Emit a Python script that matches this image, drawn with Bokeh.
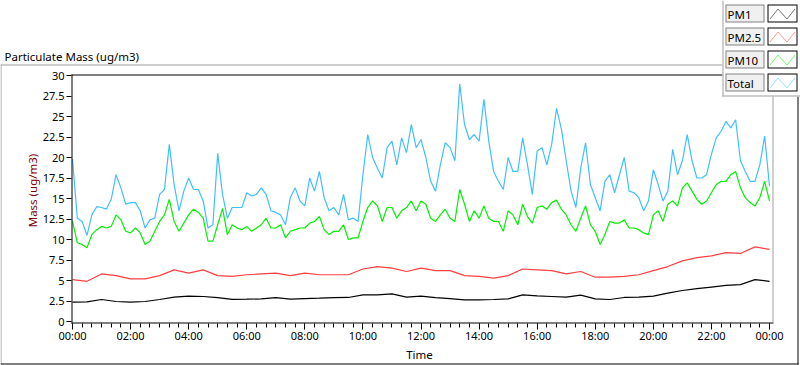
import math
from bokeh.plotting import figure
from bokeh.models import Range1d, FixedTicker, BoxAnnotation, PolyAnnotation, Label
from bokeh.embed import file_html
from bokeh.resources import INLINE

# ---------------- data ----------------
minutes_10 = list(range(0, 1441, 10))   # time of day in minutes, 10-min samples
total = [19.8, 12.6, 12.2, 10.5, 13.0, 14.0, 13.9, 13.7, 14.9, 17.9,
         16.3, 14.3, 14.5, 14.5, 13.5, 11.4, 12.4, 12.6, 15.5, 16.1,
         21.6, 16.7, 13.5, 15.9, 17.5, 16.1, 16.1, 14.7, 11.4, 11.8,
         20.5, 15.5, 12.6, 13.9, 13.9, 13.9, 15.7, 15.3, 15.5, 16.3,
         15.5, 13.5, 13.3, 13.0, 11.8, 15.1, 16.3, 14.7, 14.1, 17.5,
         15.9, 18.3, 15.1, 13.5, 13.9, 13.0, 15.5, 12.4, 12.6, 12.2,
         17.9, 22.8, 20.0, 18.7, 17.5, 21.2, 22.0, 19.1, 22.4, 20.6,
         24.0, 21.2, 22.2, 20.0, 17.1, 15.9, 19.1, 21.8, 21.2, 19.6,
         29.0, 24.0, 22.2, 22.8, 22.0, 27.1, 22.0, 18.3, 17.1, 16.1,
         20.0, 18.3, 18.3, 22.4, 19.1, 15.5, 20.8, 21.2, 19.1, 21.6,
         26.0, 23.5, 19.6, 15.9, 13.9, 18.7, 21.8, 16.7, 15.1, 13.5,
         17.1, 17.9, 15.7, 17.9, 20.0, 15.9, 15.7, 15.1, 13.5, 14.7,
         18.5, 16.7, 14.7, 15.9, 21.0, 17.9, 19.6, 22.8, 19.6, 17.5,
         17.5, 17.9, 20.4, 22.4, 23.2, 24.4, 23.6, 24.6, 19.6, 18.3,
         17.1, 17.1, 19.1, 22.6, 16.5]
pm10 = [12.2, 9.6, 9.4, 9.0, 10.6, 11.2, 11.6, 11.4, 11.6, 13.0,
        12.4, 11.0, 10.8, 11.4, 10.8, 9.4, 9.8, 11.0, 12.2, 13.0,
        14.9, 12.2, 11.0, 12.0, 13.0, 13.7, 13.3, 12.6, 9.8, 9.8,
        11.8, 13.8, 10.6, 11.8, 11.4, 11.2, 11.6, 11.0, 11.4, 11.8,
        12.6, 11.4, 11.4, 11.8, 10.2, 11.0, 11.2, 11.4, 11.4, 12.0,
        12.2, 12.8, 11.2, 10.6, 11.0, 11.0, 11.8, 10.0, 10.2, 10.2,
        12.2, 13.9, 14.7, 14.1, 12.2, 13.9, 13.9, 12.6, 13.5, 13.9,
        14.7, 13.5, 14.7, 14.3, 12.6, 12.2, 13.0, 13.7, 12.6, 12.2,
        16.1, 14.3, 12.2, 13.5, 12.6, 14.1, 12.6, 12.2, 12.2, 11.0,
        13.5, 13.0, 11.8, 14.3, 12.8, 12.0, 13.9, 14.1, 13.7, 14.5,
        14.8, 13.7, 13.0, 11.8, 11.0, 12.6, 14.1, 11.8, 11.0, 9.4,
        10.6, 12.2, 12.0, 12.0, 12.4, 11.4, 11.4, 11.2, 10.8, 10.6,
        13.0, 13.5, 12.2, 14.3, 14.7, 14.1, 16.3, 16.9, 15.9, 14.9,
        14.3, 14.7, 15.7, 16.7, 17.1, 17.1, 17.9, 18.3, 16.3, 15.1,
        14.5, 14.1, 15.1, 17.1, 14.7]
minutes_30 = list(range(0, 1441, 30))   # 30-min samples for the smooth series
pm25 = [5.1, 4.9, 5.8, 5.6, 5.2, 5.2, 5.6, 6.3, 5.9, 6.3,
        5.6, 5.5, 5.7, 5.8, 5.9, 5.6, 5.9, 5.7, 5.7, 5.7,
        6.4, 6.7, 6.5, 6.1, 6.5, 6.2, 6.2, 5.6, 5.5, 5.3,
        5.6, 6.4, 6.3, 6.2, 5.8, 6.1, 5.4, 5.4, 5.5, 5.7,
        6.2, 6.7, 7.4, 7.8, 8.0, 8.4, 8.3, 9.1, 8.8]
pm1 = [2.36, 2.40, 2.68, 2.44, 2.36, 2.44, 2.68, 2.97, 3.10, 3.05,
       2.90, 2.70, 2.72, 2.76, 2.90, 2.72, 2.80, 2.84, 2.90, 2.93,
       3.25, 3.25, 3.37, 2.97, 3.10, 2.90, 2.80, 2.64, 2.64, 2.68,
       2.76, 3.25, 3.13, 3.05, 2.97, 3.21, 2.76, 2.68, 2.93, 2.97,
       3.10, 3.45, 3.78, 4.00, 4.20, 4.40, 4.50, 5.10, 4.90]

series_names = ["PM1", "PM2.5", "PM10", "Total"]
series_colors = ["#000000", "#ff4040", "#00f000", "#40bfff"]

x_major = [0, 120, 240, 360, 480, 600, 720, 840, 960, 1080, 1200, 1320, 1440]
x_tick_labels = ["00:00", "02:00", "04:00", "06:00", "08:00", "10:00", "12:00",
                 "14:00", "16:00", "18:00", "20:00", "22:00", "00:00"]
x_minor = list(range(0, 1441, 20))
y_major = [0, 2.5, 5, 7.5, 10, 12.5, 15, 17.5, 20, 22.5, 25, 27.5, 30]
y_tick_labels = ["0", "2.5", "5", "7.5", "10", "12.5", "15", "17.5", "20",
                 "22.5", "25", "27.5", "30"]

title_text = "Particulate Mass (ug/m3)"
y_label = "Mass (ug/m3)"
x_label = "Time"

FONT = "Noto Sans"

# ---------------- geometry ----------------
W, H = 800, 365
X0_PX, PX_PER_MIN = 72, 697 / 1440      # pixel of 00:00, pixels per minute
Y0_PX, PX_PER_UNIT = 321, 8.2           # pixel of 0 ug/m3, pixels per unit
BASELINE_FIX = 4                        # label baseline correction (px)

# the frame covers the whole canvas; axes sit at fixed locations inside it
p = figure(width=W, height=H, title=None,
           x_range=Range1d(-X0_PX / PX_PER_MIN, (W - X0_PX) / PX_PER_MIN),
           y_range=Range1d(-(H - Y0_PX) / PX_PER_UNIT, Y0_PX / PX_PER_UNIT),
           output_backend="svg", toolbar_location=None,
           min_border=0, min_border_left=0, min_border_right=0,
           min_border_top=0, min_border_bottom=0,
           background_fill_color="white", border_fill_color="white",
           outline_line_color=None)
p.grid.visible = False

p.xaxis.ticker = FixedTicker(ticks=x_major, minor_ticks=x_minor)
p.xaxis.major_label_overrides = dict(zip(x_major, x_tick_labels))
p.yaxis.ticker = FixedTicker(ticks=y_major)
p.yaxis.major_label_overrides = dict(zip(y_major, y_tick_labels))
for ax in (p.xaxis[0], p.yaxis[0]):
    ax.axis_line_color = None
    ax.major_tick_line_color = "black"
    ax.major_tick_in = 0
    ax.minor_tick_in = 0
    ax.major_label_text_font = FONT
    ax.major_label_text_font_size = "11px"
    ax.major_label_text_color = "black"
p.xaxis.fixed_location = (Y0_PX - 323) / PX_PER_UNIT
p.yaxis.fixed_location = (71 - X0_PX) / PX_PER_MIN
p.xaxis.major_tick_out = 6
p.xaxis.minor_tick_out = 4
p.xaxis.minor_tick_line_color = "black"
p.xaxis.major_label_standoff = -2
p.yaxis.major_tick_out = 5
p.yaxis.minor_tick_line_color = None
p.yaxis.major_label_standoff = 2

# data lines
p.line(minutes_30, pm1, line_color=series_colors[0], line_width=1.2)
p.line(minutes_30, pm25, line_color=series_colors[1], line_width=1.2)
p.line(minutes_10, pm10, line_color=series_colors[2], line_width=1.2)
p.line(minutes_10, total, line_color=series_colors[3], line_width=1.2)

# ---------------- decorations (reference pixel positions) ----------------
def sx(X):
    return X
def sy(Y):
    return H - Y

def rect(x0, y0, x1, y1, color):
    p.add_layout(BoxAnnotation(left=sx(x0), right=sx(x1), top=sy(y0), bottom=sy(y1),
                               left_units="screen", right_units="screen",
                               top_units="screen", bottom_units="screen",
                               fill_color=color, fill_alpha=1, line_color=None,
                               level="annotation"))

def label(X, Y, text, size="11.5px", color="black", align="left", baseline="alphabetic", angle=0):
    if baseline == "alphabetic":
        Y = Y - BASELINE_FIX
    p.add_layout(Label(x=sx(X), y=sy(Y), x_units="screen", y_units="screen", text=text,
                       text_font=FONT, text_font_size=size, text_color=color,
                       text_align=align, text_baseline=baseline, angle=angle,
                       level="overlay"))

# outer panel borders
rect(0, 64, 722, 65, "#a0a0a0")
rect(0, 64, 1, 364, "#a0a0a0")
rect(0, 363, 798, 364, "black")
rect(797, 96, 798, 364, "black")
# plot area borders
rect(71, 74, 772, 75, "black")
rect(71, 74, 72, 323, "black")
rect(71, 322, 773, 323, "black")
rect(772, 74, 773, 322, "#a0a0a0")

label(4, 60, title_text)
label(32, 190, y_label, color="#7a0000", align="center", baseline="middle", angle=math.pi / 2)
label(419, 358, x_label, align="center")

# legend
rect(722, 0, 800, 96, "white")
rect(722, 0, 723, 96, "#a0a0a0")
rect(722, 95, 800, 96, "#a0a0a0")
for i, (name, col) in enumerate(zip(series_names, series_colors)):
    top = 4 + 23 * i
    rect(725, top, 764, top + 18, "#828282")
    rect(726, top + 1, 763, top + 17, "#f0f0f0")
    rect(767, top, 797, top + 18, "#000000")
    rect(768, top + 1, 796, top + 17, "white")
    xs = [769.5, 777.5, 786.5, 794.5, 786.5, 777.5]
    ys = [top + 14.5, top + 4.5, top + 14.5, top + 4.5, top + 14.5, top + 4.5]
    p.add_layout(PolyAnnotation(xs=[sx(v) for v in xs], ys=[sy(v) for v in ys],
                                xs_units="screen", ys_units="screen",
                                fill_alpha=0, line_color=col, line_width=1,
                                level="overlay"))
    label(727, top + 13.5, name)

open("out.html", "w").write(file_html(p, INLINE))
